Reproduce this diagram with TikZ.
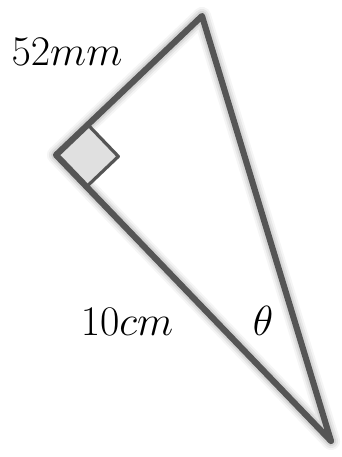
\documentclass[tikz,border=0pt]{standalone}
\usepackage{graphicx}
\usetikzlibrary{calc}
\newcommand{\biglbl}[1]{\scalebox{1.27}{\Huge$#1$}}
\begin{document}
\begin{tikzpicture}[x=0.75pt,y=-0.75pt,
  edge/.style={draw=tri, line width=4.6pt, line join=round},
  sqedge/.style={draw=tri, line width=2.4pt, line join=round},
  lbl/.style={anchor=base, inner sep=0pt}]
\definecolor{tri}{RGB}{85,85,85}
\definecolor{sq}{RGB}{224,224,224}
\useasboundingbox (0,0) rectangle (342,457);
\coordinate (L) at (56,155);
\coordinate (T) at (202,16);
\coordinate (B) at (331,441);
% soft shadow
\begin{scope}[shift={(4,5)}]
\foreach \o/\a in {9/0.04,6/0.06,3/0.08}{
  \draw[line width=4.6pt+\o pt, draw=black, opacity=\a, line join=round] (L) -- (T) -- (B) -- cycle;
}
\end{scope}
% right angle square
\coordinate (S1) at ($(L)!0.218!(T)$);
\coordinate (S2) at ($(L)!0.111!(B)$);
\coordinate (S3) at ($(S1)+(S2)-(L)$);
\fill[sq] (L) -- (S1) -- (S3) -- (S2) -- cycle;
\draw[sqedge] (S1) -- (S3) -- (S2);
% triangle
\draw[edge] (L) -- (T) -- (B) -- cycle;
% labels
\node[lbl] (a) at (67,65) {\biglbl{52mm}};
\node[lbl] (b) at (127,335) {\biglbl{10cm}};
\node[lbl] (c) at (263,335) {\biglbl{\theta}};
\end{tikzpicture}
\end{document}
